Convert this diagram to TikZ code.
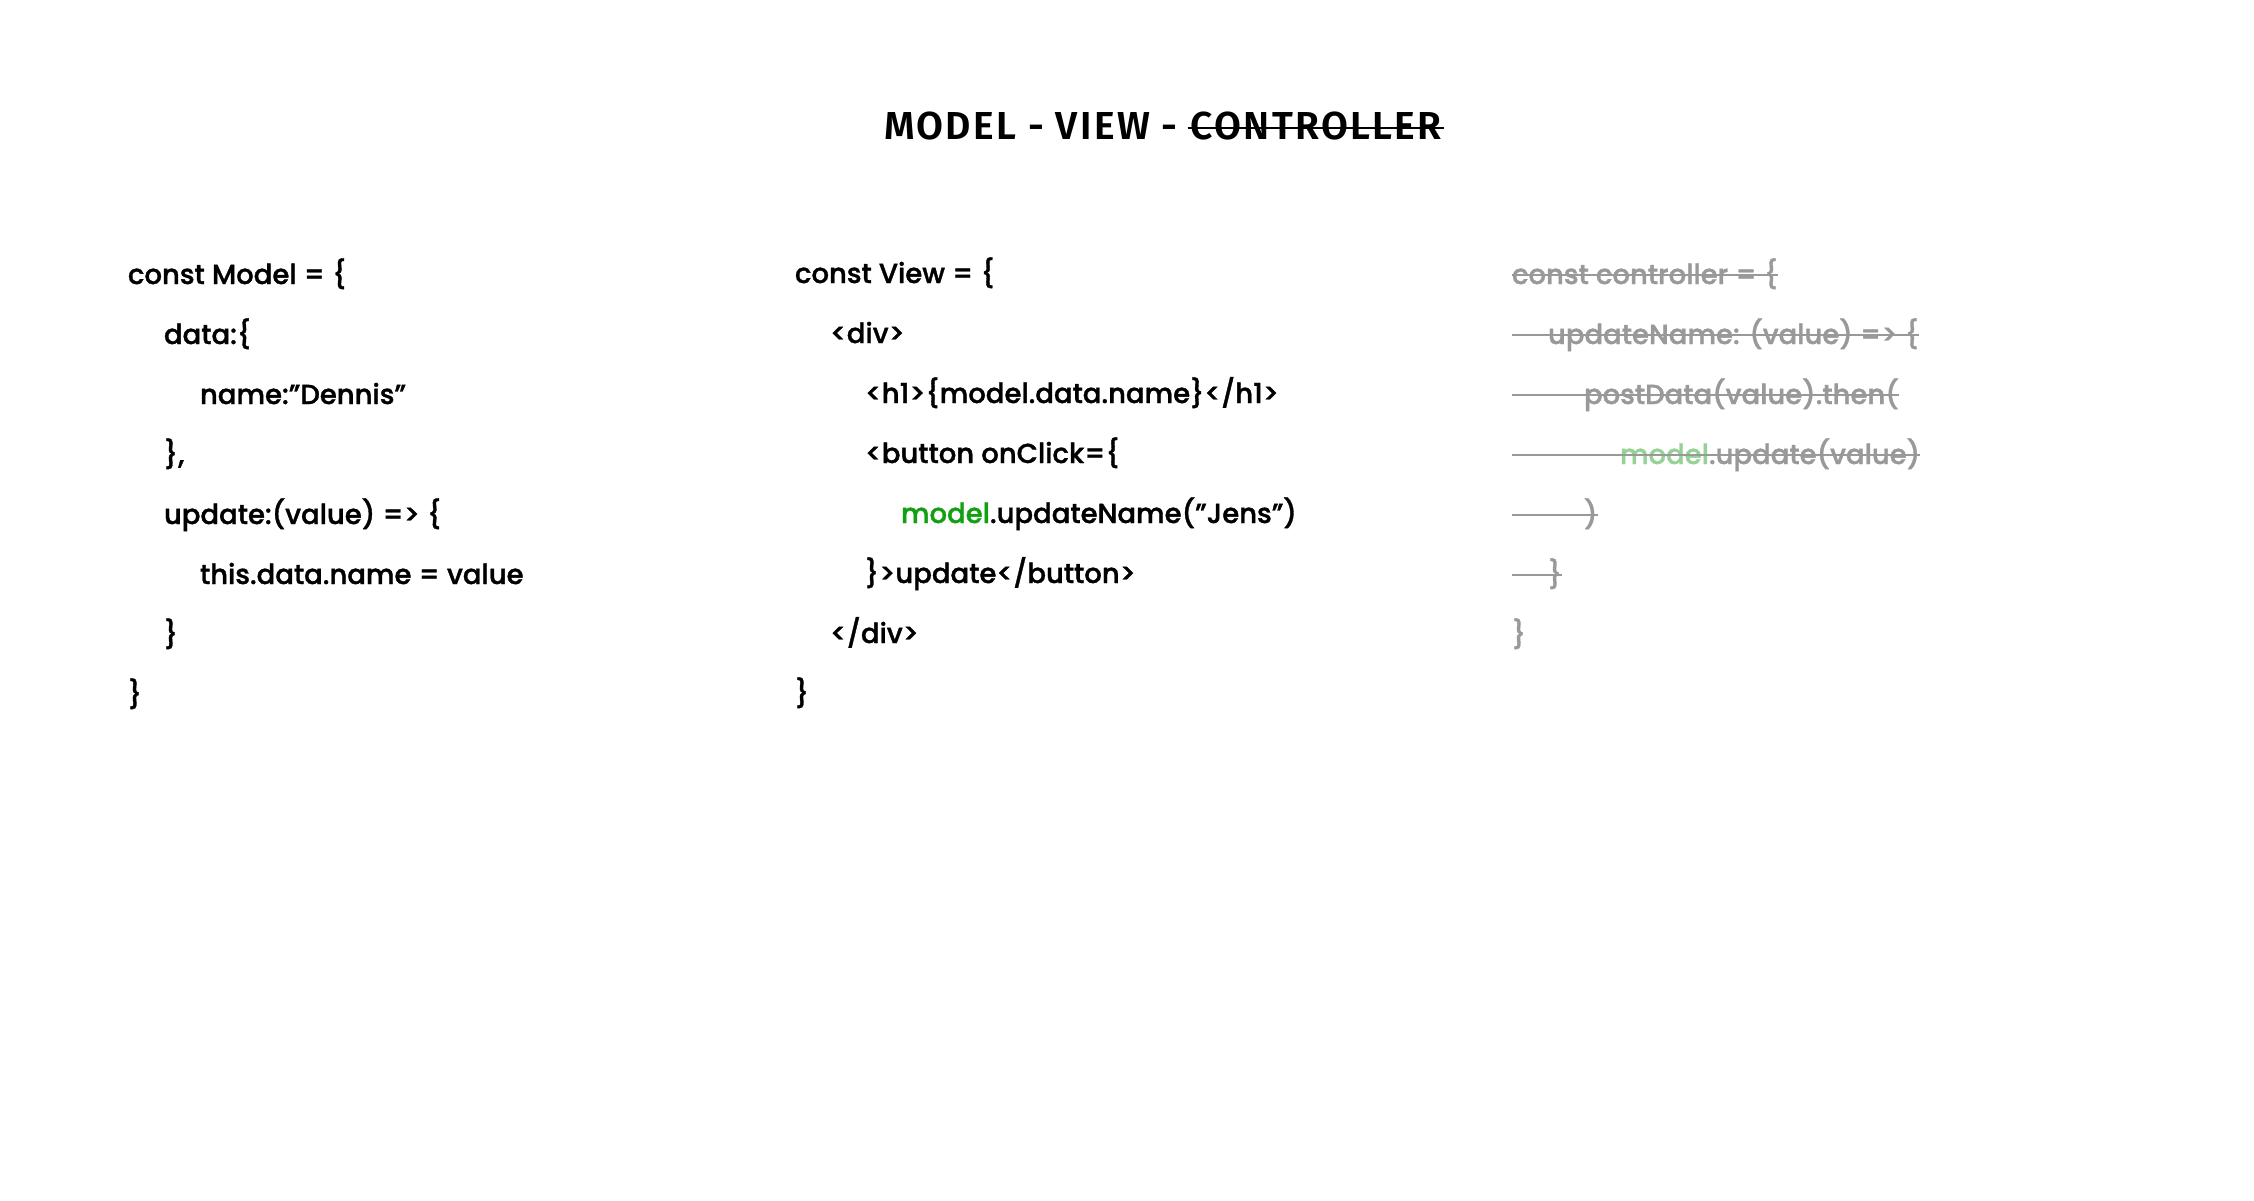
\documentclass[tikz,border=0pt]{standalone}
\usepackage{fontspec}
\IfFontExistsTF{Poppins Medium}{\setmainfont{Poppins Medium}[FakeBold=1.2]}{\setmainfont{Poppins}[FakeBold=2]}
\IfFontExistsTF{Fira Sans SemiBold}{\newfontfamily\titlefont{Fira Sans SemiBold}[LetterSpace=6]}{\newfontfamily\titlefont{Fira Sans}[FakeBold=1,LetterSpace=6]}
\definecolor{mgreen}{RGB}{18,160,18}
\definecolor{lgreen}{RGB}{150,210,150}
\definecolor{sgray}{RGB}{153,153,153}
\tikzset{
  codeline/.style={anchor=base west, inner sep=0pt, outer sep=0pt, font=\fontsize{27.5}{32}\selectfont, text=black},
  ctrlline/.style={codeline, text=sgray},
  strikeline/.style={draw=sgray, line width=2pt},
  titletext/.style={anchor=base west, inner sep=0pt, outer sep=0pt, font=\titlefont\fontsize{39}{46}\selectfont},
}
\begin{document}
\begin{tikzpicture}[x=1pt,y=-1pt]
\useasboundingbox[fill=white] (0,0) rectangle (2254,1200);
% title
\node[titletext] (t1) at (884,139) {MODEL - VIEW -};
\node[titletext] (t2) at ([xshift=13pt]t1.base east) {CONTROLLER};
\draw[line width=1.6pt] ([yshift=11pt,xshift=-3pt]t2.base west) -- ([yshift=11pt,xshift=2pt]t2.base east);
% model column
\node[codeline] (m0) at (128,284) {const Model = \{};
\node[codeline] (m1) at (164,344) {data:\{};
\node[codeline] (m2) at (200,404) {name:”Dennis”};
\node[codeline] (m3) at (164,464) {\},};
\node[codeline] (m4) at (164,524) {update:(value) => \{};
\node[codeline] (m5) at (200,584) {this.data.name = value};
\node[codeline] (m6) at (164,644) {\}};
\node[codeline] (m7) at (128,704) {\}};
% view column
\node[codeline] (v0) at (795,283) {const View = \{};
\node[codeline] (v1) at (830,343) {<div>};
\node[codeline] (v2) at (865,403) {<h1>\{model.data.name\}</h1>};
\node[codeline] (v3) at (865,463) {<button onClick=\{};
\node[codeline] (v4) at (901,523) {{\color{mgreen}model}.updateName(”Jens”)};
\node[codeline] (v5) at (865,583) {\}>update</button>};
\node[codeline] (v6) at (830,643) {</div>};
\node[codeline] (v7) at (795,703) {\}};
% controller column (struck out)
\node[ctrlline] (c0) at (1512,284) {const controller = \{};
\node[ctrlline] (c1) at (1548,344) {updateName: (value) => \{};
\node[ctrlline] (c2) at (1584,404) {postData(value).then(};
\node[ctrlline] (c3) at (1620,464) {{\color{lgreen}model}.update(value)};
\node[ctrlline] (c4) at (1584,524) {)};
\node[ctrlline] (c5) at (1548,584) {\}};
\node[ctrlline] (c6) at (1512,644) {\}};
\coordinate (s0) at (1512,284);
\coordinate (s1) at (1512,344);
\coordinate (s2) at (1512,404);
\coordinate (s3) at (1512,464);
\coordinate (s4) at (1512,524);
\coordinate (s5) at (1512,584);
\foreach \i in {0,...,5}{
  \draw[strikeline] ([yshift=9pt]s\i) -- ([yshift=9pt]c\i.base east);
}
\end{tikzpicture}
\end{document}
